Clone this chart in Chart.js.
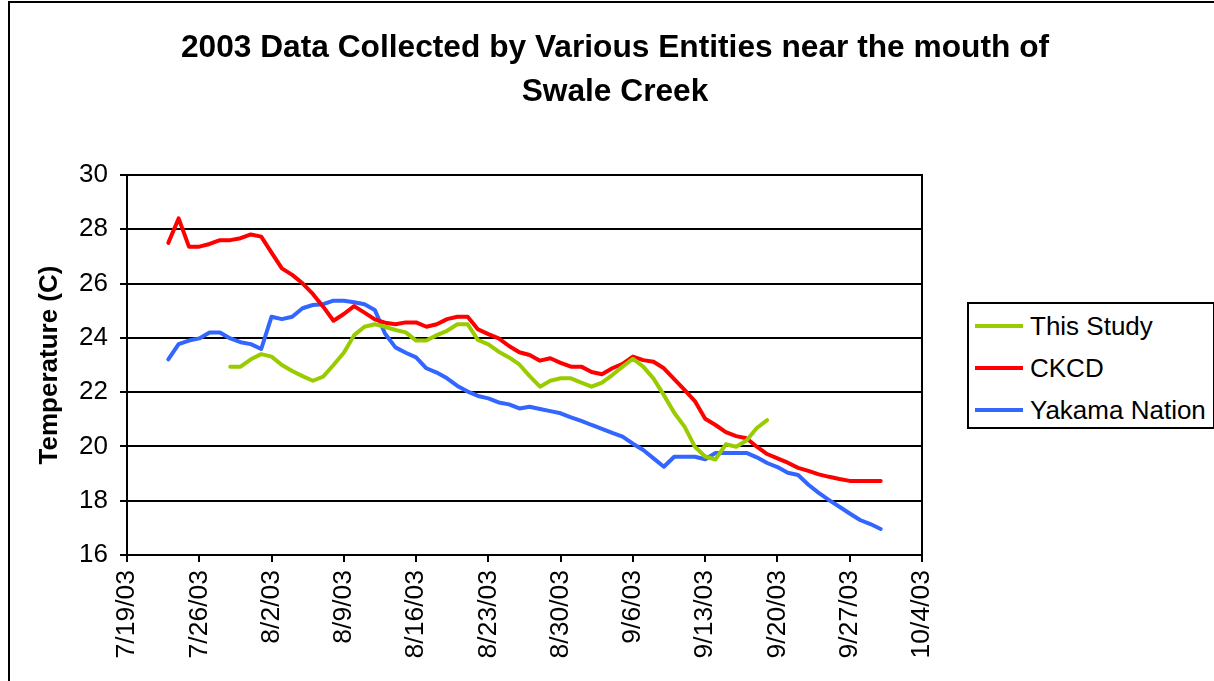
<!DOCTYPE html>
<html>
<head>
<meta charset="utf-8">
<script src="https://cdn.jsdelivr.net/npm/chart.js@4.4.1/dist/chart.umd.min.js"></script>
<style>
  html, body { margin: 0; padding: 0; background: #fff; overflow: hidden; width: 1214px; height: 681px; }
  #frame { position: absolute; left: 8px; top: 1px; width: 1400px; height: 900px; border: 2px solid #000; pointer-events: none; }
  #wrap { position: absolute; left: 8px; top: 2px; width: 1214px; height: 681px; }
  #legend { position: absolute; left: 967px; top: 302px; width: 244px; height: 123px; border: 2px solid #000; background: #fff;
            font-family: 'Liberation Sans', Arial, sans-serif; font-size: 26px; color: #000; }
  #legend .item { position: absolute; left: 0; height: 30px; width: 242px; }
  #legend .swatch { position: absolute; left: 6px; top: 13px; width: 48px; height: 4px; }
  #legend .label { position: absolute; left: 61px; top: 0; line-height: 30px; white-space: nowrap; }
</style>
</head>
<body>
<div id="frame"></div>
<div id="wrap"><canvas id="c" width="1214" height="681"></canvas></div>
<div id="legend"></div>
<script>
// ---- data (day 0 = 7/19/03) ----
const titleLines = ['2003 Data Collected by Various Entities near the mouth of', 'Swale Creek'];
const yAxisTitle = 'Temperature (C)';
const tickLabels = ['7/19/03', '7/26/03', '8/2/03', '8/9/03', '8/16/03', '8/23/03', '8/30/03', '9/6/03', '9/13/03', '9/20/03', '9/27/03', '10/4/03'];
const seriesNames = ['This Study', 'CKCD', 'Yakama Nation'];

const thisStudyStartDay = 10; // 7/29/03
const thisStudy = [22.94, 22.94, 23.21, 23.40, 23.31, 23.00, 22.78, 22.59, 22.42, 22.57,
  23.00, 23.45, 24.10, 24.41, 24.50, 24.41, 24.29, 24.20, 23.90, 23.90,
  24.10, 24.26, 24.50, 24.50, 23.92, 23.76, 23.49, 23.28, 23.02, 22.59,
  22.20, 22.42, 22.51, 22.51, 22.35, 22.20, 22.35, 22.63, 22.94, 23.23,
  22.94, 22.50, 21.89, 21.24, 20.73, 19.99, 19.63, 19.52, 20.08, 19.99,
  20.22, 20.68, 20.97];

const ckcdStartDay = 4; // 7/23/03
const ckcd = [27.50, 28.40, 27.36, 27.36, 27.46, 27.60, 27.60, 27.67, 27.81, 27.73,
  27.14, 26.56, 26.32, 26.01, 25.62, 25.15, 24.63, 24.88, 25.17, 24.93,
  24.68, 24.56, 24.50, 24.57, 24.57, 24.41, 24.50, 24.69, 24.78, 24.78,
  24.31, 24.14, 23.98, 23.70, 23.47, 23.37, 23.16, 23.25, 23.08, 22.94,
  22.94, 22.74, 22.66, 22.88, 23.04, 23.31, 23.18, 23.12, 22.88, 22.48,
  22.08, 21.67, 21.02, 20.79, 20.53, 20.38, 20.30, 19.99, 19.72, 19.56,
  19.40, 19.21, 19.10, 18.97, 18.88, 18.80, 18.73, 18.73, 18.73, 18.73];

const yakamaStartDay = 4; // 7/23/03
const yakama = [23.21, 23.77, 23.90, 23.98, 24.20, 24.20, 23.98, 23.84, 23.77, 23.59,
  24.78, 24.69, 24.78, 25.09, 25.21, 25.24, 25.37, 25.37, 25.31, 25.24,
  25.03, 24.15, 23.65, 23.45, 23.28, 22.88, 22.72, 22.51, 22.23, 22.02,
  21.86, 21.77, 21.62, 21.55, 21.40, 21.46, 21.38, 21.30, 21.22, 21.07,
  20.94, 20.79, 20.65, 20.50, 20.36, 20.10, 19.87, 19.56, 19.25, 19.62,
  19.62, 19.62, 19.53, 19.76, 19.76, 19.76, 19.76, 19.60, 19.39, 19.24,
  19.03, 18.95, 18.59, 18.29, 18.02, 17.78, 17.53, 17.29, 17.14, 16.96];

const seriesColors = ['#99CC00', '#FF0000', '#3366FF'];
// ---------------------------------

function toPoints(start, vals) { return vals.map((v, i) => ({ x: start + i, y: v })); }

const FONT = "'Liberation Sans', Arial, sans-serif";

const htmlLegend = {
  id: 'htmlLegend',
  afterUpdate(chart) {
    const box = document.getElementById('legend');
    box.innerHTML = '';
    chart.data.datasets.forEach((ds, i) => {
      const item = document.createElement('div');
      item.className = 'item';
      item.style.top = (7 + i * 42) + 'px';
      const sw = document.createElement('span');
      sw.className = 'swatch';
      sw.style.background = ds.borderColor;
      const lb = document.createElement('span');
      lb.className = 'label';
      lb.textContent = ds.label;
      item.appendChild(sw); item.appendChild(lb);
      box.appendChild(item);
    });
  }
};

new Chart(document.getElementById('c'), {
  type: 'line',
  data: {
    datasets: [
      { label: seriesNames[0], data: toPoints(thisStudyStartDay, thisStudy), borderColor: seriesColors[0] },
      { label: seriesNames[1], data: toPoints(ckcdStartDay, ckcd), borderColor: seriesColors[1] },
      { label: seriesNames[2], data: toPoints(yakamaStartDay, yakama), borderColor: seriesColors[2] }
    ]
  },
  options: {
    responsive: false,
    animation: false,
    devicePixelRatio: 1,
    layout: { padding: 0 },
    elements: {
      point: { radius: 0, hoverRadius: 0 },
      line: { borderWidth: 4, tension: 0, fill: false, borderJoinStyle: 'round', borderCapStyle: 'round' }
    },
    plugins: {
      legend: { display: false },
      tooltip: { enabled: false },
      title: {
        display: true,
        text: titleLines,
        color: '#000',
        font: { family: FONT, size: 31.7, weight: 'bold', lineHeight: 44 / 31.7 },
        padding: { top: 24.5, bottom: 60.5 }
      }
    },
    scales: {
      x: {
        type: 'linear',
        min: 0, max: 77,
        afterFit(s) { s.height = 128; },
        grid: { drawOnChartArea: false, drawTicks: true, tickLength: 7, color: '#000', lineWidth: 2 },
        border: { display: true, color: '#000', width: 2 },
        ticks: {
          stepSize: 7, autoSkip: false, maxRotation: 90, minRotation: 90, padding: 8,
          color: '#000', font: { family: FONT, size: 26.5 },
          callback: (v) => tickLabels[Math.round(v / 7)]
        }
      },
      y: {
        min: 16, max: 30,
        afterFit(s) { s.width = 119; },
        grid: { color: '#000', lineWidth: 2, tickLength: 7 },
        border: { display: true, color: '#000', width: 2 },
        ticks: { stepSize: 2, padding: 12, color: '#000', font: { family: FONT, size: 26 } },
        title: { display: true, text: yAxisTitle, color: '#000', font: { family: FONT, size: 26, weight: 'bold' }, padding: { top: 26, bottom: 0 } }
      },
      yr: {
        position: 'right',
        min: 16, max: 30,
        afterFit(s) { s.width = 300; },
        grid: { display: false },
        border: { display: true, color: '#000', width: 2 },
        ticks: { display: false }
      }
    }
  },
  plugins: [htmlLegend]
});
</script>
</body>
</html>
